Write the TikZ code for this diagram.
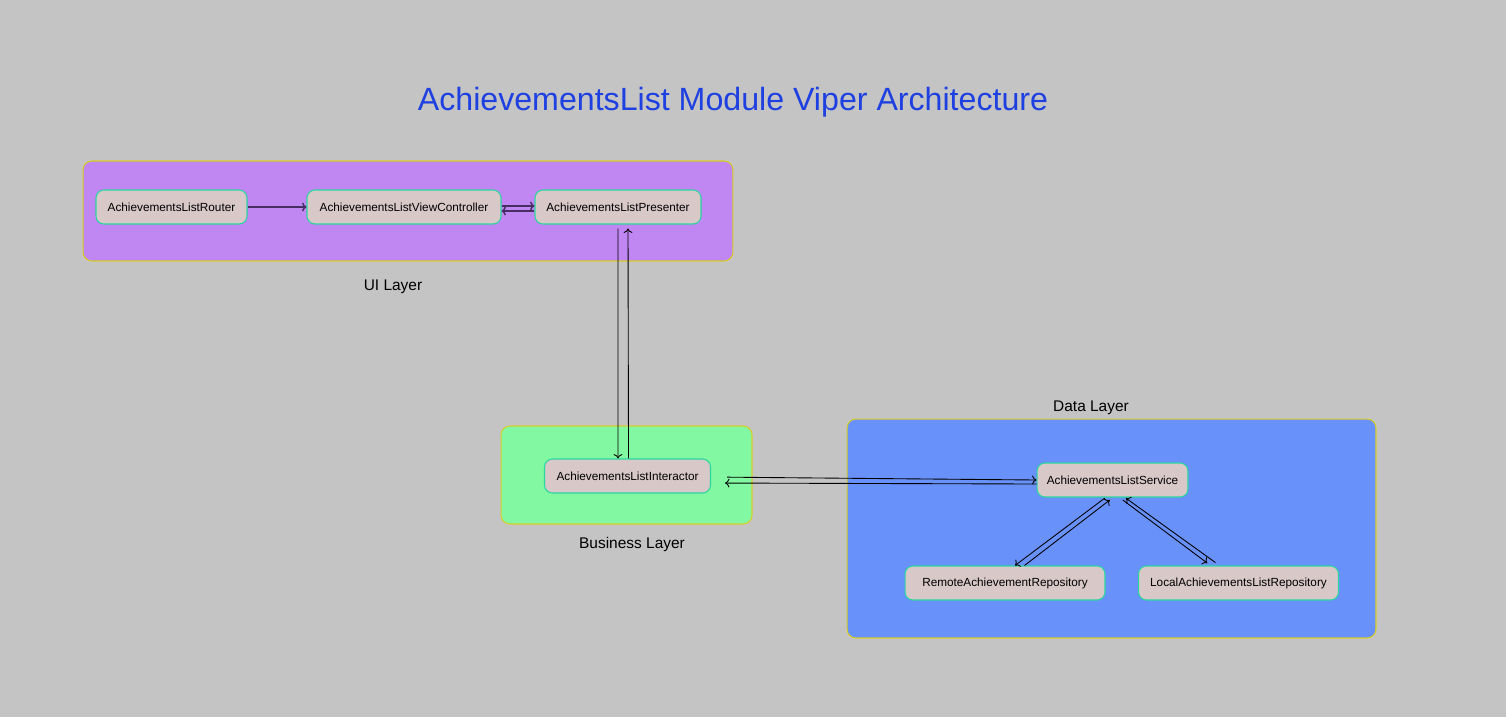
\documentclass[tikz,border=0pt]{standalone}
\usepackage{fontspec}
\setmainfont{Liberation Sans}
\usepackage{xcolor}
\usetikzlibrary{arrows.meta,positioning}

\definecolor{bgGray}{RGB}{196,196,196}
\definecolor{titleBlue}{RGB}{30,64,224}
\definecolor{uiFill}{RGB}{192,134,242}
\definecolor{bizFill}{RGB}{130,248,162}
\definecolor{dataFill}{RGB}{105,145,250}
\definecolor{layerEdge}{RGB}{215,205,40}
\definecolor{compFill}{RGB}{216,200,200}
\definecolor{compEdge}{RGB}{40,215,160}
\definecolor{uiLine}{RGB}{70,45,100}

\begin{document}
\begin{tikzpicture}[
    x=0.02cm, y=-0.02cm,
    layer/.style={draw=layerEdge, rounded corners=5pt, line width=0.6pt, inner sep=0pt},
    comp/.style={draw=compEdge, fill=compFill, rounded corners=4.5pt, minimum height=0.68cm, inner sep=0pt, font=\fontsize{6.7}{8}\selectfont, line width=0.6pt},
    caption/.style={font=\fontsize{8.8}{10}\selectfont},
    arrow/.style={-{To[length=2.5pt,width=5pt]}, line width=0.5pt}
]
    % Background
    \fill[bgGray] (0,0) rectangle (1506,717);
    \useasboundingbox (0,0) rectangle (1506,717);

    \node[font=\fontsize{18.3}{22}\selectfont, text=titleBlue] (title) at (733,102) {AchievementsList Module Viper Architecture};

    % Layers
    \node[layer, fill=uiFill, minimum width=13cm, minimum height=2cm] (uiLayer) at (408,211) {};
    \node[layer, fill=bizFill, minimum width=5.02cm, minimum height=1.96cm] (bizLayer) at (626.5,475) {};
    \node[layer, fill=dataFill, minimum width=10.58cm, minimum height=4.38cm] (dataLayer) at (1111.5,528.5) {};

    \node[caption] (uiLabel) at (393,287) {UI Layer};
    \node[caption] (bizLabel) at (632,544) {Business Layer};
    \node[caption] (dataLabel) at (1091,408) {Data Layer};

    % Components
    \node[comp, minimum width=3.02cm] (router) at (171.5,207) {AchievementsListRouter};
    \node[comp, minimum width=3.88cm] (viewCtrl) at (404,207) {AchievementsListViewController};
    \node[comp, minimum width=3.32cm] (presenter) at (618,207) {AchievementsListPresenter};
    \node[comp, minimum width=3.32cm] (interactor) at (627.5,476) {AchievementsListInteractor};
    \node[comp, minimum width=3.02cm] (service) at (1112.5,480) {AchievementsListService};
    \node[comp, minimum width=4cm] (remoteRepo) at (1005,583) {RemoteAchievementRepository};
    \node[comp, minimum width=4cm] (localRepo) at (1238.5,583) {LocalAchievementsListRepository};

    % UI layer arrows
    \draw[arrow, uiLine, line width=0.8pt] (router) -- (viewCtrl);
    \draw[arrow, uiLine, line width=0.8pt] ([yshift=0.02cm]viewCtrl.east) -- ([yshift=0.02cm]presenter.west);
    \draw[arrow, uiLine, line width=0.8pt] ([yshift=-0.08cm]presenter.west) -- ([yshift=-0.08cm]viewCtrl.east);

    % Presenter <-> Interactor
    \draw[arrow, shorten <=0.08cm] (presenter.south) -- ([xshift=-0.19cm]interactor.north);
    \draw[arrow, shorten >=0.08cm] ([xshift=0.02cm]interactor.north) -- ([xshift=0.2cm]presenter.south);

    % Interactor <-> Service
    \draw[arrow, shorten <=0.32cm] ([yshift=-0.02cm]interactor.east) -- (service.west);
    \draw[arrow, shorten >=0.28cm] ([yshift=-0.08cm]service.west) -- ([yshift=-0.14cm]interactor.east);

    % Service <-> Repositories
    \draw[arrow, shorten <=0.02cm] ([xshift=-0.14cm]service.south) -- ([xshift=0.2cm]remoteRepo.north);
    \draw[arrow, shorten >=0.08cm] ([xshift=0.39cm]remoteRepo.north) -- ([xshift=0.01cm]service.south);
    \draw[arrow, shorten <=0.08cm, shorten >=0.08cm] ([xshift=0.14cm]service.south) -- ([xshift=-0.56cm]localRepo.north);
    \draw[arrow, shorten <=0.1cm, shorten >=0.02cm] ([xshift=-0.38cm]localRepo.north) -- ([xshift=0.25cm]service.south);
\end{tikzpicture}
\end{document}
